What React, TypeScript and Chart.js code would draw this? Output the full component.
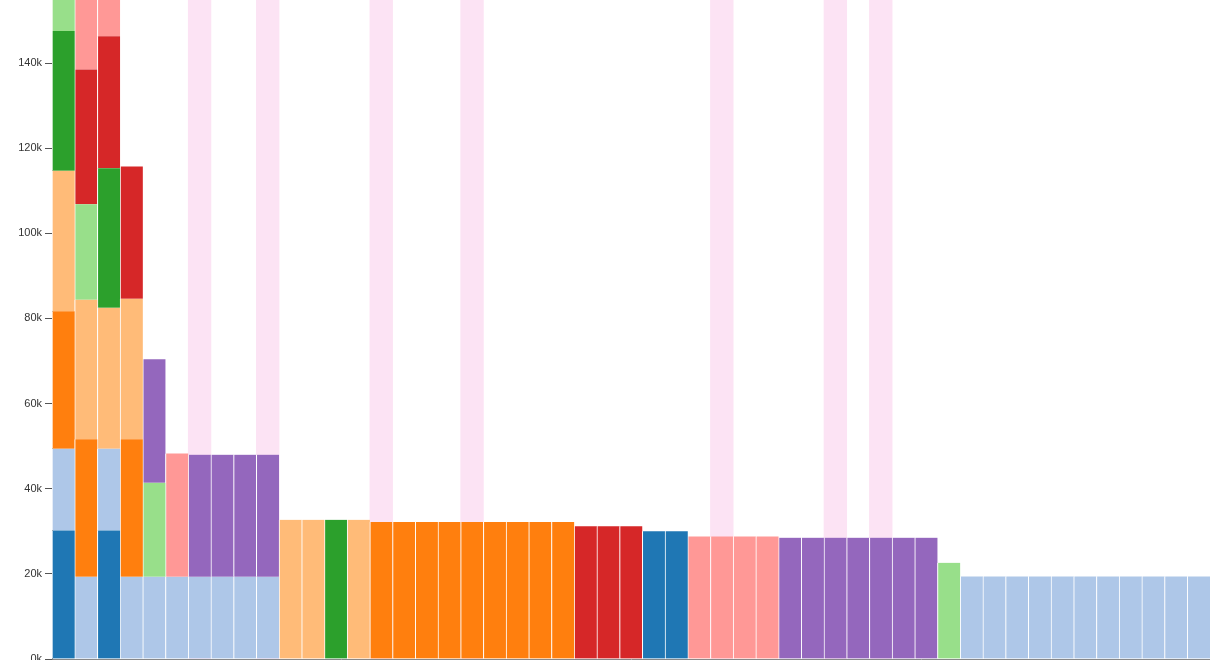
import React, { useEffect, useRef } from "react";
import { Chart, registerables } from "chart.js";

Chart.register(...registerables);

const _ = null;

const categories = [
  "1", "2", "3", "4", "5", "6", "7", "8", "9", "10",
  "11", "12", "13", "14", "15", "16", "17", "18", "19", "20",
  "21", "22", "23", "24", "25", "26", "27", "28", "29", "30",
  "31", "32", "33", "34", "35", "36", "37", "38", "39", "40",
  "41", "42", "43", "44", "45", "46", "47", "48", "49", "50", "51",
];

const seriesBlue = [
  30200, _, 30200, _, _, _, _, _, _, _,
  _, _, _, _, _, _, _, _, _, _,
  _, _, _, _, _, _, 30000, 30000, _, _,
  _, _, _, _, _, _, _, _, _, _,
  _, _, _, _, _, _, _, _, _, _, _,
];
const seriesLightBlue = [
  19200, 19300, 19200, 19300, 19300, 19300, 19300, 19300, 19300, 19300,
  _, _, _, _, _, _, _, _, _, _,
  _, _, _, _, _, _, _, _, _, _,
  _, _, _, _, _, _, _, _, _, _,
  19400, 19400, 19400, 19400, 19400, 19400, 19400, 19400, 19400, 19400, 19400,
];
const seriesOrange = [
  32300, 32300, _, 32300, _, _, _, _, _, _,
  _, _, _, _, 32200, 32200, 32200, 32200, 32200, 32200,
  32200, 32200, 32200, _, _, _, _, _, _, _,
  _, _, _, _, _, _, _, _, _, _,
  _, _, _, _, _, _, _, _, _, _, _,
];
const seriesLightOrange = [
  33000, 32800, 33100, 33000, _, _, _, _, _, _,
  32700, 32700, _, 32700, _, _, _, _, _, _,
  _, _, _, _, _, _, _, _, _, _,
  _, _, _, _, _, _, _, _, _, _,
  _, _, _, _, _, _, _, _, _, _, _,
];
const seriesGreen = [
  32800, _, 32800, _, _, _, _, _, _, _,
  _, _, 32700, _, _, _, _, _, _, _,
  _, _, _, _, _, _, _, _, _, _,
  _, _, _, _, _, _, _, _, _, _,
  _, _, _, _, _, _, _, _, _, _, _,
];
const seriesLightGreen = [
  22500, 22400, _, _, 22100, _, _, _, _, _,
  _, _, _, _, _, _, _, _, _, _,
  _, _, _, _, _, _, _, _, _, _,
  _, _, _, _, _, _, _, _, _, 22600,
  _, _, _, _, _, _, _, _, _, _, _,
];
const seriesRed = [
  _, 31700, 31000, 31100, _, _, _, _, _, _,
  _, _, _, _, _, _, _, _, _, _,
  _, _, _, 31200, 31200, 31200, _, _, _, _,
  _, _, _, _, _, _, _, _, _, _,
  _, _, _, _, _, _, _, _, _, _, _,
];
const seriesLightRed = [
  _, 28800, 28800, _, _, 29000, _, _, _, _,
  _, _, _, _, _, _, _, _, _, _,
  _, _, _, _, _, _, _, _, 28800, 28800,
  28800, 28800, _, _, _, _, _, _, _, _,
  _, _, _, _, _, _, _, _, _, _, _,
];
const seriesPurple = [
  _, _, _, _, 29000, _, 28700, 28700, 28700, 28700,
  _, _, _, _, _, _, _, _, _, _,
  _, _, _, _, _, _, _, _, _, _,
  _, _, 28500, 28500, 28500, 28500, 28500, 28500, 28500, _,
  _, _, _, _, _, _, _, _, _, _, _,
];

const highlightedCategories = ["7", "10", "15", "19", "30", "35", "37"];

const yTickValues = [0, 20000, 40000, 60000, 80000, 100000, 120000, 140000];
const yMax = 154800;

const seriesList = [
  { name: "A", data: seriesBlue, color: "#1f77b4" },
  { name: "B", data: seriesLightBlue, color: "#aec7e8" },
  { name: "C", data: seriesOrange, color: "#ff7f0e" },
  { name: "D", data: seriesLightOrange, color: "#ffbb78" },
  { name: "E", data: seriesGreen, color: "#2ca02c" },
  { name: "F", data: seriesLightGreen, color: "#98df8a" },
  { name: "G", data: seriesRed, color: "#d62728" },
  { name: "H", data: seriesLightRed, color: "#ff9896" },
  { name: "I", data: seriesPurple, color: "#9467bd" },
];

export default function App() {
  const canvasRef = useRef<HTMLCanvasElement | null>(null);

  useEffect(() => {
    if (!canvasRef.current) return;
    const datasets: any[] = seriesList.map((s) => ({
      label: s.name,
      data: s.data,
      backgroundColor: s.color,
      borderColor: "#ffffff",
      borderWidth: { left: 1, right: 0, top: 0, bottom: 0 },
      borderSkipped: false,
      stack: "main",
      order: 0,
    }));
    datasets.push({
      label: "highlight",
      data: categories.map((c) => (highlightedCategories.includes(c) ? yMax * 2 : null)),
      backgroundColor: "#fce3f4",
      borderWidth: 0,
      stack: "highlight",
      grouped: false,
      order: 1,
    });

    const chart = new Chart(canvasRef.current, {
      type: "bar",
      data: { labels: categories, datasets },
      options: {
        animation: false,
        responsive: false,
        devicePixelRatio: 1,
        layout: { padding: 0 },
        plugins: { legend: { display: false }, tooltip: { enabled: false } },
        datasets: { bar: { barPercentage: 1, categoryPercentage: 1 } },
        scales: {
          x: {
            stacked: true,
            offset: true,
            grid: {
              display: true,
              drawOnChartArea: false,
              drawTicks: true,
              tickLength: 5,
              offset: false,
              color: "#666",
            },
            border: { display: true, color: "#888" },
            ticks: { display: false },
            afterFit: (scale: any) => {
              scale.height = 1;
              scale.paddingLeft = 0;
              scale.paddingRight = 0;
            },
          },
          y: {
            stacked: true,
            min: 0,
            max: yMax,
            grid: {
              display: true,
              drawOnChartArea: false,
              drawTicks: true,
              tickLength: 7,
              color: "#555",
            },
            border: { display: true, color: "#777" },
            ticks: {
              includeBounds: false,
              padding: 3,
              color: "#333",
              font: { family: "'Liberation Sans', Arial, sans-serif", size: 11 },
              callback: (v: any) => `${Number(v) / 1000}k`,
            },
            afterBuildTicks: (scale: any) => {
              scale.ticks = yTickValues.map((v) => ({ value: v }));
            },
            afterFit: (scale: any) => {
              scale.width = 52;
              scale.paddingTop = 0;
              scale.paddingBottom = 0;
            },
          },
        },
      } as any,
    });
    return () => chart.destroy();
  }, []);

  return (
    <div
      style={{
        position: "fixed",
        left: 0,
        top: 0,
        width: 1210,
        height: 660,
        background: "#fff",
        overflow: "hidden",
      }}
    >
      <canvas ref={canvasRef} width={1210} height={660} style={{ display: "block" }} />
    </div>
  );
}
